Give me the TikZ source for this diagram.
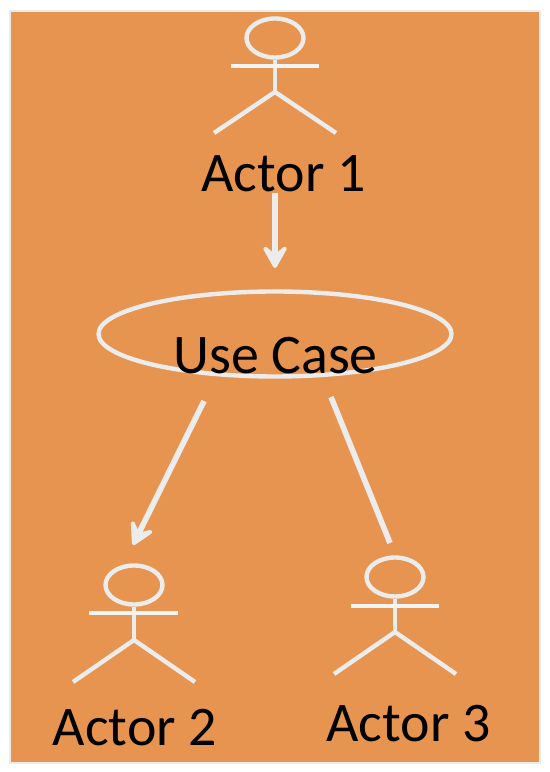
\documentclass[tikz,border=0pt]{standalone}
\usepackage{fontspec}
\setmainfont{Carlito}
\usetikzlibrary{arrows.meta,shapes.geometric,backgrounds}
\pgfdeclarelayer{edgelayer}
\pgfdeclarelayer{nodelayer}
\pgfsetlayers{background,edgelayer,nodelayer,main}
\definecolor{panel}{RGB}{231,148,80}
\definecolor{chalk}{RGB}{236,236,236}
\tikzstyle{none}=[inner sep=0mm]
\tikzstyle{label}=[inner sep=0mm,anchor=base,text=black,font=\fontsize{31.8}{36}\selectfont]
\tikzstyle{head}=[shape=ellipse,draw=chalk,line width=2.5pt,inner sep=0mm,minimum width=1.14cm,minimum height=0.78cm]
\tikzstyle{usecase}=[shape=ellipse,draw=chalk,line width=2.5pt,inner sep=0mm,minimum width=7.06cm,minimum height=1.7cm]
\tikzstyle{limb}=[draw=chalk,line width=2.5pt]
\tikzstyle{arm}=[draw=white!40!chalk,line width=2.6pt]
\tikzstyle{link}=[draw=chalk,line width=3.2pt]
\tikzstyle{diredge}=[link,-{Stealth[length=17pt,width=19pt,inset=8pt,round]}]

\begin{document}
\begin{tikzpicture}
	\useasboundingbox (0, 0) rectangle (11, 15.44);
	\begin{pgfonlayer}{background}
		\node [draw=chalk,fill=panel,line width=0.8pt,minimum width=10.6cm,minimum height=15.04cm,inner sep=0mm] (panel) at (5.5, 7.7) {};
	\end{pgfonlayer}
	\begin{pgfonlayer}{nodelayer}
		% first actor
		\node [style=head] (h1) at (5.5, 14.68) {};
		\node [style=none] (l1) at (4.62, 14.12) {};
		\node [style=none] (r1) at (6.38, 14.12) {};
		\node [style=none] (n1) at (5.5, 13.6) {};
		\node [style=none] (f1) at (4.28, 12.78) {};
		\node [style=none] (g1) at (6.72, 12.78) {};
		\node [style=label] (a1) at (5.67, 11.61) {Actor 1};
		% second actor
		\node [style=head] (h2) at (2.68, 3.74) {};
		\node [style=none] (l2) at (1.78, 3.18) {};
		\node [style=none] (r2) at (3.56, 3.18) {};
		\node [style=none] (n2) at (2.68, 2.64) {};
		\node [style=none] (f2) at (1.46, 1.8) {};
		\node [style=none] (g2) at (3.9, 1.8) {};
		\node [style=label] (a2) at (2.7, 0.54) {Actor 2};
		% third actor
		\node [style=head] (h3) at (7.9, 3.9) {};
		\node [style=none] (l3) at (7.02, 3.32) {};
		\node [style=none] (r3) at (8.78, 3.32) {};
		\node [style=none] (n3) at (7.9, 2.8) {};
		\node [style=none] (f3) at (6.68, 1.96) {};
		\node [style=none] (g3) at (9.12, 1.96) {};
		\node [style=label] (a3) at (8.17, 0.6) {Actor 3};
		% use case and the free ends of the links
		\node [style=usecase] (uc) at (5.5, 8.76) {};
		\node [style=label] (ut) at (5.51, 7.97) {Use Case};
		\node [style=none] (s1) at (5.5, 11.58) {};
		\node [style=none] (t1) at (5.5, 10.08) {};
		\node [style=none] (s2) at (4.08, 7.42) {};
		\node [style=none] (t2) at (2.66, 4.54) {};
		\node [style=none] (s3) at (6.62, 7.5) {};
		\node [style=none] (t3) at (7.8, 4.58) {};
	\end{pgfonlayer}
	\begin{pgfonlayer}{edgelayer}
		\foreach \i in {1,2,3} {
			\draw [style=limb] (h\i.south) to (n\i.center);
			\draw [style=arm] (l\i.center) to (r\i.center);
			\draw [style=limb] (n\i.center) to (f\i.center);
			\draw [style=limb] (n\i.center) to (g\i.center);
		}
		\draw [style=diredge] (s1.center) to (t1.center);
		\draw [style=diredge] (s2.center) to (t2.center);
		\draw [style=link] (s3.center) to (t3.center);
	\end{pgfonlayer}
\end{tikzpicture}
\end{document}
